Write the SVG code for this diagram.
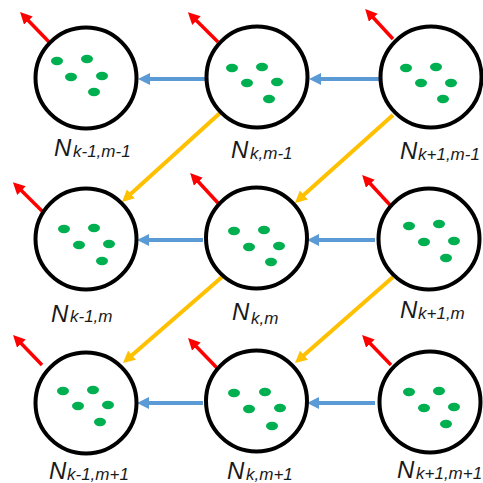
<svg xmlns="http://www.w3.org/2000/svg" width="483" height="483" viewBox="0 0 483 483">
<style>
.node circle{fill:#fff;stroke:#000;stroke-width:4}
.dot{fill:#00B050}
.red{stroke:#FF0000;stroke-width:3.5;fill:none;marker-end:url(#mr)}
.blue{stroke:#5B9BD5;stroke-width:4;fill:none;marker-end:url(#mb)}
.yel{stroke:#FFC000;stroke-width:4;fill:none;marker-end:url(#my)}
text{font-family:"Liberation Sans",Arial,sans-serif;font-style:italic;fill:#1a1a1a}
.N{font-size:24px}
.s{font-size:17px}
</style>
<defs>
<marker id="mr" viewBox="0 0 12 12" refX="4" refY="6" markerWidth="12" markerHeight="12" markerUnits="userSpaceOnUse" orient="auto"><path d="M0,0 L12,6 L0,12 z" fill="#FF0000"/></marker>
<marker id="mb" viewBox="0 0 12 12" refX="4" refY="6" markerWidth="12" markerHeight="12" markerUnits="userSpaceOnUse" orient="auto"><path d="M0,0 L12,6 L0,12 z" fill="#5B9BD5"/></marker>
<marker id="my" viewBox="0 0 12 12" refX="4" refY="6" markerWidth="12" markerHeight="12" markerUnits="userSpaceOnUse" orient="auto"><path d="M0,0 L12,6 L0,12 z" fill="#FFC000"/></marker>
</defs>
<g id="connectors">
<line class="blue" x1="379" y1="79" x2="317" y2="79"/>
<line class="blue" x1="206" y1="79" x2="146" y2="79"/>
<line class="blue" x1="375" y1="240" x2="315" y2="240"/>
<line class="blue" x1="203" y1="240" x2="145" y2="240"/>
<line class="blue" x1="375" y1="403" x2="315" y2="403"/>
<line class="blue" x1="203" y1="403" x2="145" y2="403"/>
<line class="yel" x1="220" y1="113" x2="127.9" y2="196.6"/>
<line class="yel" x1="393" y1="115" x2="300.9" y2="197.6"/>
<line class="yel" x1="222" y1="277" x2="129" y2="357.8"/>
<line class="yel" x1="393" y1="277" x2="301" y2="357.8"/>
<line class="red" x1="50" y1="43" x2="25.6" y2="17.8"/>
<line class="red" x1="218" y1="42" x2="193.6" y2="17.8"/>
<line class="red" x1="393" y1="39" x2="370.6" y2="14.8"/>
<line class="red" x1="43" y1="212" x2="18.6" y2="187.8"/>
<line class="red" x1="218" y1="203" x2="195.6" y2="178.8"/>
<line class="red" x1="390" y1="205" x2="367.6" y2="180.8"/>
<line class="red" x1="42" y1="365" x2="18.6" y2="340.8"/>
<line class="red" x1="218" y1="369" x2="193.6" y2="343.8"/>
<line class="red" x1="391" y1="365" x2="367.6" y2="340.8"/>
</g>
<g id="n-k-1-m-1" class="node">
<circle cx="86" cy="78" r="50.5"/>
<ellipse class="dot" cx="57" cy="61" rx="6" ry="4.2"/><ellipse class="dot" cx="87" cy="59" rx="6" ry="4.2"/><ellipse class="dot" cx="71" cy="77" rx="6" ry="4.2"/><ellipse class="dot" cx="102" cy="76" rx="6" ry="4.2"/><ellipse class="dot" cx="94" cy="92" rx="6" ry="4.2"/>
<text y="156"><tspan class="N" x="54">N</tspan><tspan class="s" x="73" dy="1">k-1,m-1</tspan></text>
</g>
<g id="n-k-m-1" class="node">
<circle cx="257" cy="77" r="50.5"/>
<ellipse class="dot" cx="232" cy="68" rx="6" ry="4.2"/><ellipse class="dot" cx="262" cy="67" rx="6" ry="4.2"/><ellipse class="dot" cx="247" cy="83" rx="6" ry="4.2"/><ellipse class="dot" cx="277" cy="82" rx="6" ry="4.2"/><ellipse class="dot" cx="269" cy="99" rx="6" ry="4.2"/>
<text y="158"><tspan class="N" x="231">N</tspan><tspan class="s" x="250" dy="1">k,m-1</tspan></text>
</g>
<g id="n-k+1-m-1" class="node">
<circle cx="431" cy="77" r="50.5"/>
<ellipse class="dot" cx="406" cy="68" rx="6" ry="4.2"/><ellipse class="dot" cx="436" cy="67" rx="6" ry="4.2"/><ellipse class="dot" cx="421" cy="83" rx="6" ry="4.2"/><ellipse class="dot" cx="451" cy="83" rx="6" ry="4.2"/><ellipse class="dot" cx="443" cy="99" rx="6" ry="4.2"/>
<text y="159"><tspan class="N" x="400">N</tspan><tspan class="s" x="418" dy="1">k+1,m-1</tspan></text>
</g>
<g id="n-k-1-m" class="node">
<circle cx="86" cy="239" r="50.5"/>
<ellipse class="dot" cx="64" cy="229" rx="6" ry="4.2"/><ellipse class="dot" cx="94" cy="228" rx="6" ry="4.2"/><ellipse class="dot" cx="79" cy="245" rx="6" ry="4.2"/><ellipse class="dot" cx="109" cy="244" rx="6" ry="4.2"/><ellipse class="dot" cx="102" cy="261" rx="6" ry="4.2"/>
<text y="322"><tspan class="N" x="51">N</tspan><tspan class="s" x="70">k-1,m</tspan></text>
</g>
<g id="n-k-m" class="node">
<circle cx="256.5" cy="238" r="50.5"/>
<ellipse class="dot" cx="234" cy="231" rx="6" ry="4.2"/><ellipse class="dot" cx="264" cy="230" rx="6" ry="4.2"/><ellipse class="dot" cx="249" cy="247" rx="6" ry="4.2"/><ellipse class="dot" cx="279" cy="246" rx="6" ry="4.2"/><ellipse class="dot" cx="271" cy="262" rx="6" ry="4.2"/>
<text y="320"><tspan class="N" x="232">N</tspan><tspan class="s" x="251" dy="4">k,m</tspan></text>
</g>
<g id="n-k+1-m" class="node">
<circle cx="429" cy="239" r="50.5"/>
<ellipse class="dot" cx="409" cy="226" rx="6" ry="4.2"/><ellipse class="dot" cx="439" cy="224" rx="6" ry="4.2"/><ellipse class="dot" cx="424" cy="242" rx="6" ry="4.2"/><ellipse class="dot" cx="454" cy="241" rx="6" ry="4.2"/><ellipse class="dot" cx="446" cy="258" rx="6" ry="4.2"/>
<text y="318"><tspan class="N" x="400">N</tspan><tspan class="s" x="418" dy="1">k+1,m</tspan></text>
</g>
<g id="n-k-1-m+1" class="node">
<circle cx="86" cy="403" r="50.5"/>
<ellipse class="dot" cx="63" cy="391" rx="6" ry="4.2"/><ellipse class="dot" cx="93" cy="390" rx="6" ry="4.2"/><ellipse class="dot" cx="78" cy="406" rx="6" ry="4.2"/><ellipse class="dot" cx="108" cy="405" rx="6" ry="4.2"/><ellipse class="dot" cx="100" cy="422" rx="6" ry="4.2"/>
<text y="479"><tspan class="N" x="49">N</tspan><tspan class="s" x="67" dy="1">k-1,m+1</tspan></text>
</g>
<g id="n-k-m+1" class="node">
<circle cx="256.5" cy="401" r="50.5"/>
<ellipse class="dot" cx="234" cy="393" rx="6" ry="4.2"/><ellipse class="dot" cx="265" cy="392" rx="6" ry="4.2"/><ellipse class="dot" cx="249" cy="409" rx="6" ry="4.2"/><ellipse class="dot" cx="280" cy="408" rx="6" ry="4.2"/><ellipse class="dot" cx="272" cy="426" rx="6" ry="4.2"/>
<text y="479"><tspan class="N" x="227">N</tspan><tspan class="s" x="246" dy="1">k,m+1</tspan></text>
</g>
<g id="n-k+1-m+1" class="node">
<circle cx="430" cy="402" r="50.5"/>
<ellipse class="dot" cx="409" cy="392" rx="6" ry="4.2"/><ellipse class="dot" cx="439" cy="391" rx="6" ry="4.2"/><ellipse class="dot" cx="424" cy="408" rx="6" ry="4.2"/><ellipse class="dot" cx="454" cy="407" rx="6" ry="4.2"/><ellipse class="dot" cx="446" cy="424" rx="6" ry="4.2"/>
<text y="478"><tspan class="N" x="397">N</tspan><tspan class="s" x="416" dy="1">k+1,m+1</tspan></text>
</g>
</svg>
